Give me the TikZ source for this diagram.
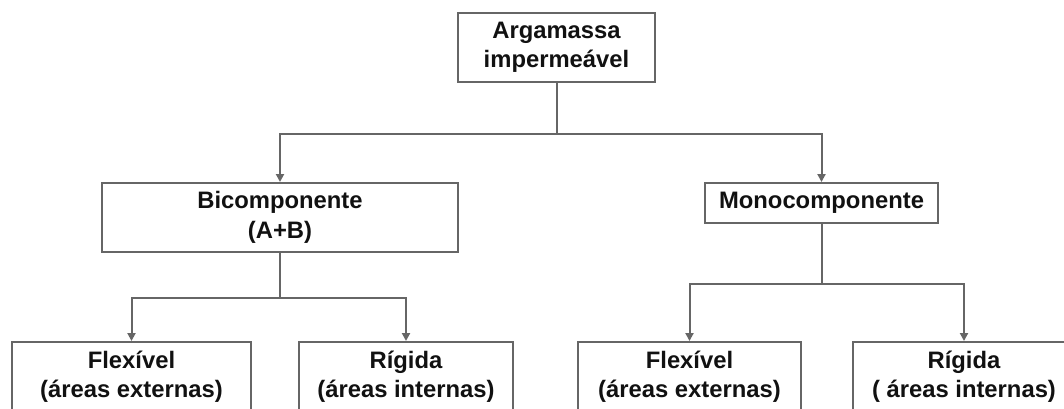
\documentclass[tikz,border=0pt]{standalone}
\usepackage{fontspec}
\setmainfont{Liberation Sans}
\usetikzlibrary{arrows.meta}
\definecolor{linegray}{HTML}{666666}
\definecolor{txt}{HTML}{111111}
\tikzset{
  box/.style={draw=linegray, line width=2pt, inner sep=0pt, align=center,
    text=txt, font=\fontsize{23.8}{29.5}\selectfont\bfseries},
  conn/.style={draw=linegray, line width=2pt},
  arr/.style={conn, -{Triangle[width=8pt,length=8pt]}}
}
\begin{document}
\begin{tikzpicture}[x=1pt,y=-1pt]
\useasboundingbox (0,0) rectangle (1064,408);
\clip (0,0) rectangle (1064,408);
\fill[white] (0,0) rectangle (1064,408);
\node[box, minimum width=197pt, minimum height=69pt] (top) at (556.5,47.5) {Argamassa\\impermeável};
\node[box, minimum width=356pt, minimum height=69pt] (bico) at (280,217.5) {Bicomponente\\(A+B)};
\node[box, minimum width=233pt, minimum height=40pt] (mono) at (821.5,203) {Monocomponente};
\node[box, minimum width=239pt, minimum height=69pt] (f1) at (131.5,376.5) {Flexível\\(áreas externas)};
\node[box, minimum width=214pt, minimum height=69pt] (r1) at (406,376.5) {Rígida\\(áreas internas)};
\node[box, minimum width=223pt, minimum height=69pt] (f2) at (689.5,376.5) {Flexível\\(áreas externas)};
\node[box, minimum width=222pt, minimum height=69pt] (r2) at (964,376.5) {Rígida\\( áreas internas)};
\draw[arr] (top.south) -- ++(0,51) -| (bico.north);
\draw[arr] (top.south) -- ++(0,51) -| (mono.north);
\draw[arr] (bico.south) -- ++(0,45) -| (f1.north);
\draw[arr] (bico.south) -- ++(0,45) -| (r1.north);
\draw[arr] (mono.south) -- ++(0,60) -| (f2.north);
\draw[arr] (mono.south) -- ++(0,60) -| (r2.north);
\end{tikzpicture}
\end{document}
